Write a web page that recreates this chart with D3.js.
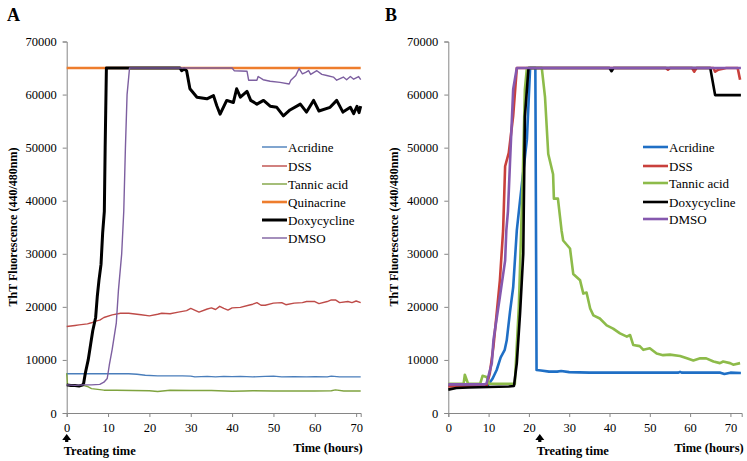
<!DOCTYPE html>
<html><head><meta charset="utf-8">
<script src="https://cdn.jsdelivr.net/npm/d3@7"></script>
<style>body{margin:0;background:#fff}svg{display:block}text{font-family:"Liberation Serif","Times New Roman",serif}</style>
</head><body>
<svg id="c" width="747" height="461"></svg>
<script>
const xTicks = [0,10,20,30,40,50,60,70];
const yTicks = [0,10000,20000,30000,40000,50000,60000,70000];

// Panel A
const aNames = ["Acridine","DSS","Tannic acid","Quinacrine","Doxycycline","DMSO"];
const aAcridine = [[0,7400],[5,7400],[10,7400],[15,7400],[17,7300],[19,7100],[22,7000],[25,7000],[28,7000],[30,6950],[31,6800],[34,6900],[36,6800],[38,6900],[40,6850],[42,6900],[45,6800],[48,6900],[50,6950],[52,6800],[55,6850],[58,6800],[60,6850],[63,6800],[64,6950],[66,6800],[70,6800],[71.1,6800]];
const aDSS = [[0,16300],[1,16400],[2,16500],[3,16600],[5,16800],[6,17000],[7,17300],[8,17500],[9,18000],[11,18500],[13,18800],[15,18800],[16,18700],[18,18500],[20,18300],[22,18600],[23,18800],[25,18700],[27,19000],[29,19300],[30,19700],[32,19000],[34,19600],[35,19800],[36,19500],[37,20100],[38,19700],[39,19400],[40,19800],[42,19900],[44,20300],[45,20500],[46,20800],[47,20300],[48,20300],[50,20700],[52,20800],[53,20400],[55,20700],[57,20800],[58,21000],[60,21000],[61,20600],[63,21000],[64,21300],[65,21300],[66,20800],[68,21000],[69,20800],[70,21100],[71.1,20800]];
const aTannic = [[0,7500],[0.2,5300],[2,5100],[4,5200],[5,5000],[6,4600],[7,4500],[9,4300],[12,4300],[20,4200],[22,4050],[25,4300],[30,4250],[35,4250],[40,4100],[43,4150],[45,4200],[50,4150],[55,4150],[60,4150],[64,4200],[65,4350],[67,4150],[71.1,4150]];
const aQuinacrine = [[0,65000],[71.1,65000]];
const aDoxy = [[0,5300],[1,5200],[2,5200],[3,5100],[3.9,5300],[4.1,5600],[4.5,7500],[5.2,10000],[5.8,13000],[6.3,15500],[7,18000],[7.4,22000],[7.8,25000],[8.3,28000],[8.7,34000],[9.1,38000],[9.3,50000],[9.6,65000],[27.4,65000],[27.8,64500],[28.4,64800],[29,64500],[29.8,61100],[31.5,59500],[33.9,59200],[35.5,59800],[36.3,57900],[37.1,56300],[38.7,58900],[40.3,58500],[41.1,61100],[42,59500],[43.6,60600],[44.5,58900],[46,58200],[47.6,58900],[49.2,57800],[50.8,57600],[52.4,56000],[54,57100],[56.5,58200],[58,56700],[59.7,58900],[61,56900],[63.7,57600],[65.3,58900],[66.8,56700],[68.6,57600],[69.4,56400],[70.2,57800],[70.7,56600],[71.1,57800]];
const aDMSO = [[0,5300],[2,5200],[4,5300],[6,5300],[8,5400],[9,5800],[9.8,6500],[10.3,9000],[11,12000],[12,17000],[12.5,23000],[13.3,30000],[13.8,38000],[14.2,50000],[14.6,60000],[15.2,65000],[40,65000],[40.5,64500],[43.6,64400],[44,62700],[46,62700],[46.3,63400],[47.5,62800],[49.2,62500],[51.6,62300],[53.8,62000],[54.2,62700],[55.4,63600],[56.2,64900],[57,63900],[57.8,64200],[58.5,64500],[59,63800],[60.5,64500],[61.7,63800],[62.9,63600],[64.5,63300],[65.3,62700],[66.9,63300],[67.7,62800],[68.6,63400],[69.4,62900],[70.6,63400],[71.1,62800]];

// Panel B
const bNames = ["Acridine","DSS","Tannic acid","Doxycycline","DMSO"];
const bAcridine = [[0,5200],[5,5200],[9.9,5300],[11,6500],[12,8100],[13,10500],[14,11900],[14.5,13700],[15.3,19000],[16.1,23700],[17,34400],[17.8,40000],[19.5,51500],[20.3,65000],[21.6,65000],[21.9,8100],[23,8000],[25,7800],[27,7800],[28,7900],[30,7700],[35,7600],[45,7600],[57,7600],[57.5,7750],[58,7600],[65,7600],[67.5,7600],[68.5,7350],[70,7600],[72.6,7550]];
const bDSS = [[0,5000],[5,5000],[9.5,5100],[10.3,7500],[11.2,12500],[12.8,25000],[13.6,34400],[14.1,46500],[15,49000],[16.1,56000],[17,65000],[54,65000],[54.5,64700],[55,65000],[60.5,65000],[61,64300],[61.6,65000],[65.8,65000],[66.2,64300],[67,64700],[69,65000],[71.8,65000],[72.4,62800]];
const bTannic = [[0,5500],[3.8,5500],[4.1,7200],[4.9,5500],[7.9,5500],[8.5,7000],[9.5,6800],[10.2,5500],[16.5,5500],[17.5,20000],[18.5,45000],[19,61000],[19.5,65000],[23.2,65000],[24,59500],[24.8,48800],[26,45000],[26.2,40400],[27.2,40400],[28.1,34400],[28.5,32500],[30.2,31000],[31,26200],[32.7,25000],[33.5,22500],[34.3,22700],[35.2,19700],[36,18400],[37.6,17800],[39.3,16500],[40.9,15900],[42.6,15000],[44.3,14400],[45.1,14700],[45.9,12800],[47.5,12600],[48.4,11900],[50,12200],[51.7,11200],[53.3,10900],[55,11000],[57.5,10750],[59.2,10300],[60.8,9900],[62.5,10300],[64,10300],[65.8,9700],[67.4,9400],[68.2,9700],[69.9,9400],[70.7,9100],[72.4,9400]];
const bDoxy = [[0,4400],[2,4700],[5,4800],[10,4900],[15,5000],[16.3,5100],[17,9400],[17.8,18700],[18.6,30000],[19,55800],[19.9,65000],[40,65000],[40.5,64400],[41,65000],[65,65000],[66.2,59900],[72.6,59900]];
const bDMSO = [[0,5400],[9,5400],[9.5,5600],[10.8,9400],[11.2,13700],[12.8,21900],[14.1,28700],[14.4,34400],[14.8,38000],[15.3,47000],[16.1,61000],[17,65000],[72.6,65000]];

const svg = d3.select("#c");

function panel(cfg){
  const g = svg.append("g");
  const x = d3.scaleLinear().domain([0,cfg.xMax]).range([cfg.x0,cfg.x1]);
  const y = d3.scaleLinear().domain([0,70000]).range([413,41.5]);
  const yAx = g.append("g").attr("transform",`translate(${cfg.x0},0)`)
    .call(d3.axisLeft(y).tickValues(yTicks).tickSize(4).tickPadding(6).tickFormat(d3.format("d")));
  const xAx = g.append("g").attr("transform",`translate(0,413)`)
    .call(d3.axisBottom(x).tickValues(xTicks).tickSize(4).tickPadding(6));
  [yAx,xAx].forEach(a=>{
    a.selectAll("path,line").attr("stroke","#868686").attr("stroke-width",1);
    a.selectAll("text").attr("font-size",12.5).attr("fill","#000").attr("font-family","Liberation Serif");
  });
  const line = d3.line().x(d=>x(d[0])).y(d=>y(d[1]));
  cfg.series.forEach(s=>{
    g.append("path").datum(s.data).attr("d",line).attr("fill","none")
      .attr("stroke",s.color).attr("stroke-width",s.w).attr("stroke-linejoin","round");
  });
  // legend
  cfg.series.forEach((s,i)=>{
    const ly = cfg.legY[i];
    g.append("line").attr("x1",cfg.legX).attr("x2",cfg.legX+25).attr("y1",ly).attr("y2",ly)
      .attr("stroke",s.color).attr("stroke-width",s.w);
    g.append("text").attr("x",cfg.legX+26).attr("y",ly+4.5).attr("font-size",13).text(s.name);
  });
  // title
  g.append("text").attr("transform",`translate(${cfg.x0-50},227) rotate(-90)`)
    .attr("text-anchor","middle").attr("font-size",12).attr("font-weight","bold").text("ThT Fluorescence (440/480nm)");
  g.append("text").attr("x",cfg.x1+2).attr("y",452).attr("text-anchor","end")
    .attr("font-size",12.5).attr("font-weight","bold").text("Time (hours)");
  g.append("text").attr("x",cfg.label[0]).attr("y",cfg.label[1]).attr("font-size",18).attr("font-weight","bold").text(cfg.letter);
  // arrow
  const ax = x(cfg.treat);
  g.append("path").attr("d",`M${ax-4.5},${440} L${ax},${434} L${ax+4.5},${440} L${ax+1.6},${440} L${ax+1.6},${442} L${ax-1.6},${442} L${ax-1.6},${440} Z`).attr("fill","#000");
  g.append("text").attr("x",ax-3).attr("y",455).attr("font-size",12.5).attr("font-weight","bold").text("Treating time");
}

panel({x0:66.7,x1:360.7,xMax:71.1,letter:"A",label:[7,21],treat:0,legX:262,
  legY:[147,166,184,202,220,238],
  series:[
    {name:aNames[0],data:aAcridine,color:"#4A7EBB",w:1.4},
    {name:aNames[1],data:aDSS,color:"#BE4B48",w:1.4},
    {name:aNames[2],data:aTannic,color:"#7FA33F",w:1.4},
    {name:aNames[3],data:aQuinacrine,color:"#EE7D2D",w:2.6},
    {name:aNames[4],data:aDoxy,color:"#000000",w:3},
    {name:aNames[5],data:aDMSO,color:"#7D5FA0",w:1.4}
  ]});
panel({x0:448.3,x1:741.7,xMax:72.8,letter:"B",label:[385,21],treat:22.7,legX:643,
  legY:[147,166,183,202,219],
  series:[
    {name:bNames[0],data:bAcridine,color:"#1F6FC5",w:2.6},
    {name:bNames[1],data:bDSS,color:"#C9403C",w:2.6},
    {name:bNames[2],data:bTannic,color:"#8DBB4A",w:2.6},
    {name:bNames[3],data:bDoxy,color:"#000000",w:2.6},
    {name:bNames[4],data:bDMSO,color:"#8558AE",w:2.6}
  ]});
</script>
</body></html>
